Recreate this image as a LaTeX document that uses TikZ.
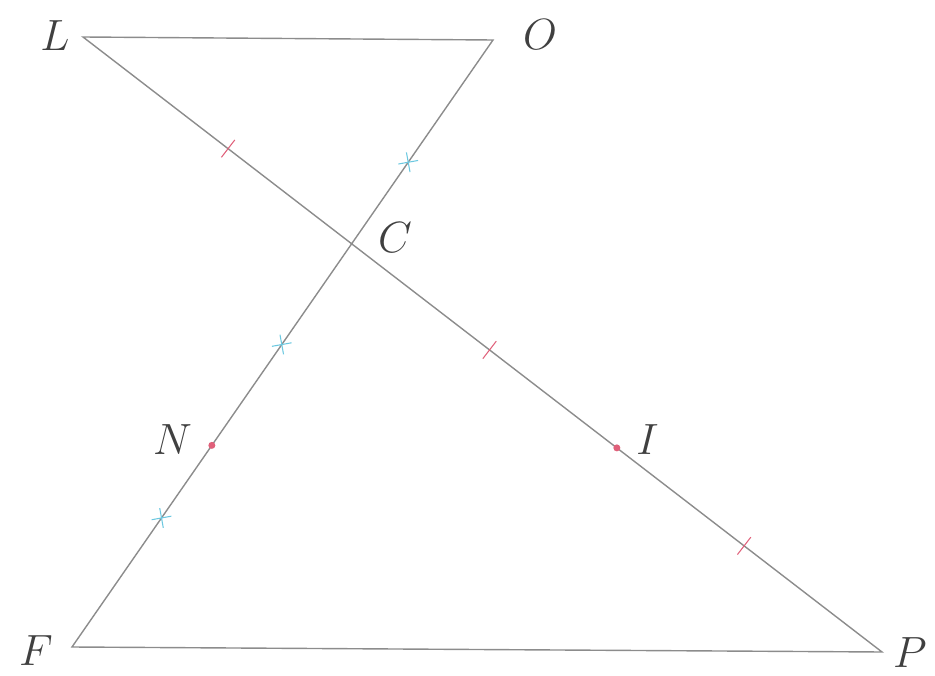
\documentclass[tikz,border=0pt]{standalone}
\usepackage{tikz}
\usetikzlibrary{calc}
\definecolor{edgegray}{HTML}{8C8C8C}
\definecolor{tickred}{HTML}{E0607A}
\definecolor{tickblue}{HTML}{6CC8E0}

\begin{document}
\begin{tikzpicture}[
    seg/.style={draw=edgegray, line width=0.8pt},
    lbl/.style={font=\fontsize{24}{28}\selectfont, text=black!75, inner sep=0pt},
    tickmark/.style={draw=tickred, line width=0.6pt},
    crossmark/.style={draw=tickblue, line width=0.6pt},
    dot/.style={circle, fill=tickred, inner sep=0pt, minimum size=1.4mm}
]
\useasboundingbox (0,0) rectangle (18.7,13.5);

% Vertices
\coordinate (L) at (1.66,12.76);
\coordinate (O) at (9.86,12.70);
\coordinate (F) at (1.44,0.56);
\coordinate (P) at (17.64,0.46);
\coordinate (C) at (intersection of L--P and O--F);
\coordinate (N) at ($(C)!0.5!(F)$);
\coordinate (I) at ($(C)!0.5!(P)$);

% Sides
\draw[seg] (L) -- (O) -- (F) -- (P) -- cycle;

% Midpoints
\node[dot] (n) at (N) {};
\node[dot] (i) at (I) {};

% Equal segments, single ticks
\foreach \a/\b/\t in {L/C/0.54, C/I/0.52, I/P/0.48} {
  \coordinate (m) at ($(\a)!\t!(\b)$);
  \draw[tickmark] ($(m)!0.22cm!90:(\b)$) -- ($(m)!0.22cm!-90:(\b)$);
}

% Equal segments, crosses
\foreach \a/\b/\t in {O/C/0.6, C/N/0.5, N/F/0.36} {
  \coordinate (m) at ($(\a)!\t!(\b)$);
  \draw[crossmark] ($(m)!0.2cm!45:(\b)$) -- ($(m)!0.2cm!-135:(\b)$);
  \draw[crossmark] ($(m)!0.2cm!-45:(\b)$) -- ($(m)!0.2cm!135:(\b)$);
}

% Labels
\node[lbl] (lL) at (1.10,12.78) {$L$};
\node[lbl] (lO) at (10.80,12.80) {$O$};
\node[lbl] (lC) at (7.90,8.75) {$C$};
\node[lbl] (lN) at (3.45,4.70) {$N$};
\node[lbl] (lI) at (12.95,4.70) {$I$};
\node[lbl] (lF) at (0.72,0.48) {$F$};
\node[lbl] (lP) at (18.20,0.45) {$P$};

\end{tikzpicture}
\end{document}
